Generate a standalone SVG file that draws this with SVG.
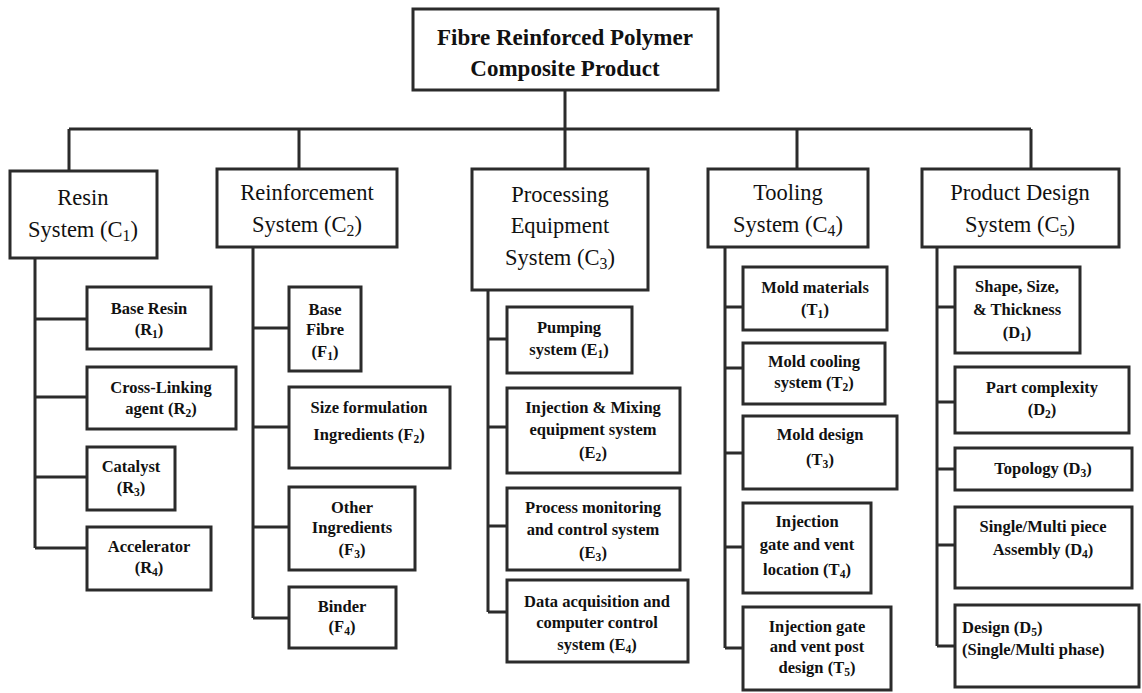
<svg xmlns="http://www.w3.org/2000/svg" width="1142" height="693" viewBox="0 0 1142 693">
  <style>
    .box { fill: #ffffff; stroke: #2b2b2b; stroke-width: 3; }
    .wire { fill: none; stroke: #2b2b2b; stroke-width: 3; }
    text { font-family: "Liberation Serif", "Times New Roman", serif; fill: #111111; text-anchor: middle; }
    .root { font-size: 23px; font-weight: bold; }
    .cat { font-size: 22.5px; }
    .leaf { font-size: 16.5px; font-weight: bold; }
    .left { text-anchor: start; }
    .sub { font-size: 70%; }
  </style>

  <!-- connectors -->
  <g id="connectors">
    <!-- trunk and top bar -->
    <path class="wire" d="M565 90 V169 M69 129 H1031 M69 129 V171 M299 129 V169 M797 129 V169 M1031 129 V169"/>
    <!-- resin system branches -->
    <path class="wire" d="M35 258 V548 M35 319 H87 M35 397 H87 M35 477 H87 M35 548 H87"/>
    <!-- reinforcement system branches -->
    <path class="wire" d="M253 247 V618 M253 328 H289 M253 427 H289 M253 527 H289 M253 618 H289"/>
    <!-- processing equipment branches -->
    <path class="wire" d="M488 290 V612 M488 339 H507 M488 427 H507 M488 526 H507 M488 612 H507"/>
    <!-- tooling system branches -->
    <path class="wire" d="M725 247 V648 M725 307 H743 M725 368 H743 M725 453 H743 M725 547 H743 M725 648 H743"/>
    <!-- product design branches -->
    <path class="wire" d="M937 247 V646 M937 307 H955 M937 402 H955 M937 469 H955 M937 545 H955 M937 646 H955"/>
  </g>

  <!-- root -->
  <g id="frp-product">
    <rect class="box" x="413" y="9" width="305" height="81"/>
    <text class="root" x="565" y="45">Fibre Reinforced Polymer</text>
    <text class="root" x="565" y="76">Composite Product</text>
  </g>

  <!-- categories -->
  <g id="c1-resin">
    <rect class="box" x="10" y="171" width="147" height="87"/>
    <text class="cat" x="83" y="205">Resin</text>
    <text class="cat" x="83" y="237">System (C<tspan class="sub" dy="4">1</tspan><tspan dy="-4">)</tspan></text>
  </g>
  <g id="c2-reinforcement">
    <rect class="box" x="217" y="169" width="180" height="78"/>
    <text class="cat" x="307" y="200">Reinforcement</text>
    <text class="cat" x="307" y="232">System (C<tspan class="sub" dy="4">2</tspan><tspan dy="-4">)</tspan></text>
  </g>
  <g id="c3-processing">
    <rect class="box" x="472" y="169" width="176" height="121"/>
    <text class="cat" x="560" y="202">Processing</text>
    <text class="cat" x="560" y="233">Equipment</text>
    <text class="cat" x="560" y="265">System (C<tspan class="sub" dy="4">3</tspan><tspan dy="-4">)</tspan></text>
  </g>
  <g id="c4-tooling">
    <rect class="box" x="708" y="169" width="160" height="78"/>
    <text class="cat" x="788" y="200">Tooling</text>
    <text class="cat" x="788" y="232">System (C<tspan class="sub" dy="4">4</tspan><tspan dy="-4">)</tspan></text>
  </g>
  <g id="c5-product-design">
    <rect class="box" x="922" y="169" width="197" height="78"/>
    <text class="cat" x="1020" y="200">Product Design</text>
    <text class="cat" x="1020" y="232">System (C<tspan class="sub" dy="4">5</tspan><tspan dy="-4">)</tspan></text>
  </g>

  <!-- resin system items -->
  <g id="r1">
    <rect class="box" x="87" y="287" width="124" height="62"/>
    <text class="leaf" x="149" y="314">Base Resin</text>
    <text class="leaf" x="149" y="335">(R<tspan class="sub" dy="3">1</tspan><tspan dy="-3">)</tspan></text>
  </g>
  <g id="r2">
    <rect class="box" x="87" y="367" width="149" height="62"/>
    <text class="leaf" x="161" y="393">Cross-Linking</text>
    <text class="leaf" x="161" y="414">agent (R<tspan class="sub" dy="3">2</tspan><tspan dy="-3">)</tspan></text>
  </g>
  <g id="r3">
    <rect class="box" x="87" y="447" width="88" height="63"/>
    <text class="leaf" x="131" y="472">Catalyst</text>
    <text class="leaf" x="131" y="493">(R<tspan class="sub" dy="3">3</tspan><tspan dy="-3">)</tspan></text>
  </g>
  <g id="r4">
    <rect class="box" x="87" y="527" width="124" height="63"/>
    <text class="leaf" x="149" y="552">Accelerator</text>
    <text class="leaf" x="149" y="573">(R<tspan class="sub" dy="3">4</tspan><tspan dy="-3">)</tspan></text>
  </g>

  <!-- reinforcement system items -->
  <g id="f1">
    <rect class="box" x="289" y="287" width="72" height="84"/>
    <text class="leaf" x="325" y="315">Base</text>
    <text class="leaf" x="325" y="335">Fibre</text>
    <text class="leaf" x="325" y="357">(F<tspan class="sub" dy="3">1</tspan><tspan dy="-3">)</tspan></text>
  </g>
  <g id="f2">
    <rect class="box" x="289" y="387" width="161" height="81"/>
    <text class="leaf" x="369" y="413">Size formulation</text>
    <text class="leaf" x="369" y="440">Ingredients (F<tspan class="sub" dy="3">2</tspan><tspan dy="-3">)</tspan></text>
  </g>
  <g id="f3">
    <rect class="box" x="289" y="487" width="126" height="83"/>
    <text class="leaf" x="352" y="513">Other</text>
    <text class="leaf" x="352" y="533">Ingredients</text>
    <text class="leaf" x="352" y="555">(F<tspan class="sub" dy="3">3</tspan><tspan dy="-3">)</tspan></text>
  </g>
  <g id="f4">
    <rect class="box" x="289" y="587" width="107" height="61"/>
    <text class="leaf" x="342" y="612">Binder</text>
    <text class="leaf" x="342" y="632">(F<tspan class="sub" dy="3">4</tspan><tspan dy="-3">)</tspan></text>
  </g>

  <!-- processing equipment items -->
  <g id="e1">
    <rect class="box" x="507" y="307" width="125" height="66"/>
    <text class="leaf" x="569" y="333">Pumping</text>
    <text class="leaf" x="569" y="355">system (E<tspan class="sub" dy="3">1</tspan><tspan dy="-3">)</tspan></text>
  </g>
  <g id="e2">
    <rect class="box" x="507" y="388" width="173" height="85"/>
    <text class="leaf" x="593" y="413">Injection &amp; Mixing</text>
    <text class="leaf" x="593" y="435">equipment system</text>
    <text class="leaf" x="593" y="458">(E<tspan class="sub" dy="3">2</tspan><tspan dy="-3">)</tspan></text>
  </g>
  <g id="e3">
    <rect class="box" x="507" y="488" width="173" height="82"/>
    <text class="leaf" x="593" y="513">Process monitoring</text>
    <text class="leaf" x="593" y="535">and control system</text>
    <text class="leaf" x="593" y="558">(E<tspan class="sub" dy="3">3</tspan><tspan dy="-3">)</tspan></text>
  </g>
  <g id="e4">
    <rect class="box" x="507" y="580" width="181" height="82"/>
    <text class="leaf" x="597" y="607">Data acquisition and</text>
    <text class="leaf" x="597" y="628">computer control</text>
    <text class="leaf" x="597" y="650">system (E<tspan class="sub" dy="3">4</tspan><tspan dy="-3">)</tspan></text>
  </g>

  <!-- tooling system items -->
  <g id="t1">
    <rect class="box" x="743" y="267" width="144" height="63"/>
    <text class="leaf" x="815" y="293">Mold materials</text>
    <text class="leaf" x="815" y="315">(T<tspan class="sub" dy="3">1</tspan><tspan dy="-3">)</tspan></text>
  </g>
  <g id="t2">
    <rect class="box" x="743" y="343" width="142" height="61"/>
    <text class="leaf" x="814" y="367">Mold cooling</text>
    <text class="leaf" x="814" y="388">system (T<tspan class="sub" dy="3">2</tspan><tspan dy="-3">)</tspan></text>
  </g>
  <g id="t3">
    <rect class="box" x="743" y="416" width="154" height="73"/>
    <text class="leaf" x="820" y="440">Mold design</text>
    <text class="leaf" x="820" y="465">(T<tspan class="sub" dy="3">3</tspan><tspan dy="-3">)</tspan></text>
  </g>
  <g id="t4">
    <rect class="box" x="743" y="503" width="128" height="90"/>
    <text class="leaf" x="807" y="527">Injection</text>
    <text class="leaf" x="807" y="550">gate and vent</text>
    <text class="leaf" x="807" y="575">location (T<tspan class="sub" dy="3">4</tspan><tspan dy="-3">)</tspan></text>
  </g>
  <g id="t5">
    <rect class="box" x="743" y="607" width="148" height="83"/>
    <text class="leaf" x="817" y="632">Injection gate</text>
    <text class="leaf" x="817" y="652">and vent post</text>
    <text class="leaf" x="817" y="673">design (T<tspan class="sub" dy="3">5</tspan><tspan dy="-3">)</tspan></text>
  </g>

  <!-- product design items -->
  <g id="d1">
    <rect class="box" x="955" y="267" width="125" height="86"/>
    <text class="leaf" x="1017" y="292">Shape, Size,</text>
    <text class="leaf" x="1017" y="315">&amp; Thickness</text>
    <text class="leaf" x="1017" y="338">(D<tspan class="sub" dy="3">1</tspan><tspan dy="-3">)</tspan></text>
  </g>
  <g id="d2">
    <rect class="box" x="955" y="367" width="174" height="66"/>
    <text class="leaf" x="1042" y="393">Part complexity</text>
    <text class="leaf" x="1042" y="415">(D<tspan class="sub" dy="3">2</tspan><tspan dy="-3">)</tspan></text>
  </g>
  <g id="d3">
    <rect class="box" x="955" y="448" width="177" height="42"/>
    <text class="leaf" x="1043" y="474">Topology (D<tspan class="sub" dy="3">3</tspan><tspan dy="-3">)</tspan></text>
  </g>
  <g id="d4">
    <rect class="box" x="955" y="507" width="177" height="81"/>
    <text class="leaf" x="1043" y="532">Single/Multi piece</text>
    <text class="leaf" x="1043" y="555">Assembly (D<tspan class="sub" dy="3">4</tspan><tspan dy="-3">)</tspan></text>
  </g>
  <g id="d5">
    <rect class="box" x="955" y="605" width="184" height="82"/>
    <text class="leaf left" x="962" y="633">Design (D<tspan class="sub" dy="3">5</tspan><tspan dy="-3">)</tspan></text>
    <text class="leaf left" x="962" y="655">(Single/Multi phase)</text>
  </g>
</svg>
